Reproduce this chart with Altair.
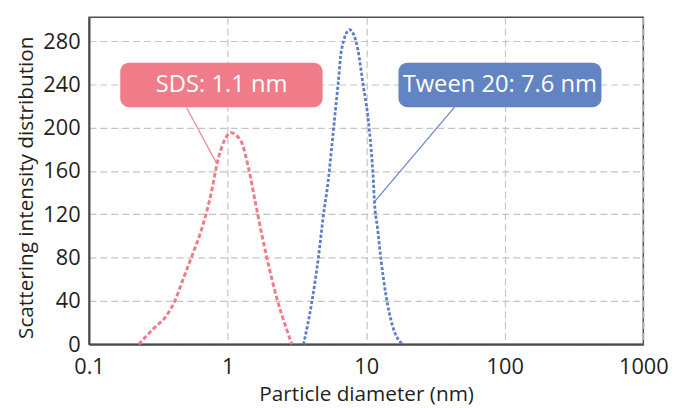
import altair as alt
import pandas as pd

# ---- data ----
sds_diam = [0.228, 0.291, 0.362, 0.416, 0.477, 0.547, 0.663, 0.760, 0.849, 0.946, 1.057,
            1.245, 1.429, 1.593, 1.778, 1.985, 2.275, 2.61, 2.91]
sds_int = [0, 14.3, 26.5, 40, 60, 80, 110, 139, 169.6, 188, 195.4,
           188, 160.5, 130, 99.5, 72, 41.7, 17.4, 0]

tw_diam = [3.53, 4.05, 4.52, 4.91, 5.32, 5.62, 5.94, 6.28, 6.63, 7.60,
           8.73, 9.47, 10.28, 10.86, 11.28, 11.46, 12.12, 12.80, 13.9, 15.5, 18.3]
tw_int = [0, 38.7, 80, 119, 151, 180, 210.7, 241, 271.6, 290.5,
          271.6, 241, 210.7, 180, 150, 133, 105.7, 78, 45, 17, 0]

x_ticks = [0.1, 1, 10, 100, 1000]
y_ticks = [0, 40, 80, 120, 160, 200, 240, 280]

labels = ["SDS: 1.1 nm", "Tween 20: 7.6 nm"]
colors = ["#F07C8A", "#6384C2"]
lead_colors = ["#F08A96", "#6A8ACB"]

# annotation geometry (data coordinates)
box_x0 = [0.168, 17.1]
box_x1 = [4.85, 499]
box_y0 = [219, 219]
box_y1 = [260, 260]
text_x = [0.906, 92.1]
text_y = [239.5, 239.5]
lead_x0 = [0.504, 43.4]
lead_y0 = [219, 219]
lead_x1 = [0.826, 11.46]
lead_y1 = [168, 131.5]

FONT = "Open Sans"
TXT = "#231f20"
X_TITLE = "Particle diameter (nm)"
Y_TITLE = "Scattering intensity distribution"

sds_df = pd.DataFrame({"d": sds_diam, "v": sds_int})
tw_df = pd.DataFrame({"d": tw_diam, "v": tw_int})
ann = pd.DataFrame({
    "label": labels, "color": colors, "lcolor": lead_colors,
    "x0": box_x0, "x1": box_x1, "y0": box_y0, "y1": box_y1,
    "tx": text_x, "ty": text_y,
    "lx0": lead_x0, "ly0": lead_y0, "lx1": lead_x1, "ly1": lead_y1,
})

xs = alt.Scale(type="log", domain=[0.1, 1000])
ys = alt.Scale(domain=[0, 302], nice=False, zero=True)

x_axis = alt.Axis(
    values=x_ticks, format="~g", title=X_TITLE,
    ticks=False, labelFlush=False, labelOverlap=False, labelPadding=13,
    labelFontSize=22, labelFontWeight=500, titleFontSize=21, titleFontWeight=500,
    titleY=57, titleBaseline="alphabetic",
    domain=True, domainColor="#4d4d4d", domainWidth=2,
    grid=True, gridColor="#c4c4c4", gridDash=[7, 4], gridWidth=1.2,
)
y_axis = alt.Axis(
    values=y_ticks, title=Y_TITLE,
    ticks=False, labelPadding=9, labelFontSize=22, labelFontWeight=500, labelFlush=False,
    titleFontSize=21, titleFontWeight=500,
    titleX=-57, titleY=172, titleAlign="center", titleBaseline="alphabetic",
    domain=True, domainColor="#4d4d4d", domainWidth=2,
    grid=True, gridColor="#c4c4c4", gridDash=[7, 4], gridWidth=1.2,
)


def X(f):
    return alt.X(f, type="quantitative", scale=xs, axis=x_axis, title=X_TITLE)


def Y(f):
    return alt.Y(f, type="quantitative", scale=ys, axis=y_axis, title=Y_TITLE)


sds_line = alt.Chart(sds_df).mark_line(
    color=colors[0], strokeWidth=3, strokeDash=[4.5, 2.5], interpolate="monotone"
).encode(x=X("d"), y=Y("v"))

tw_line = alt.Chart(tw_df).mark_line(
    color="#5B7EC4", strokeWidth=2.8, strokeDash=[3.2, 2], interpolate="monotone"
).encode(x=X("d"), y=Y("v"))

leads = alt.Chart(ann).mark_rule(strokeWidth=1.3).encode(
    x=X("lx0"), x2="lx1:Q", y=Y("ly0"), y2="ly1:Q",
    color=alt.Color("lcolor:N", scale=None),
)

boxes = alt.Chart(ann).mark_rect(cornerRadius=9).encode(
    x=X("x0"), x2="x1:Q", y=Y("y0"), y2="y1:Q",
    color=alt.Color("color:N", scale=None),
)

texts = alt.Chart(ann).mark_text(
    font=FONT, fontSize=24, fontWeight=500, color="white", align="center", baseline="middle"
).encode(x=X("tx"), y=Y("ty"), text="label:N")

chart = alt.layer(sds_line, tw_line, leads, boxes, texts).properties(
    width=561, height=331,
    autosize=alt.AutoSizeParams(type="none"),
    padding={"left": 82, "top": 7, "right": 27, "bottom": 62},
).configure_axis(
    labelFont=FONT, titleFont=FONT, labelColor=TXT, titleColor=TXT,
).configure_view(
    stroke="#4d4d4d", strokeWidth=1.5
)

chart.save("out.html", embed_options={"renderer": "svg", "actions": False})
